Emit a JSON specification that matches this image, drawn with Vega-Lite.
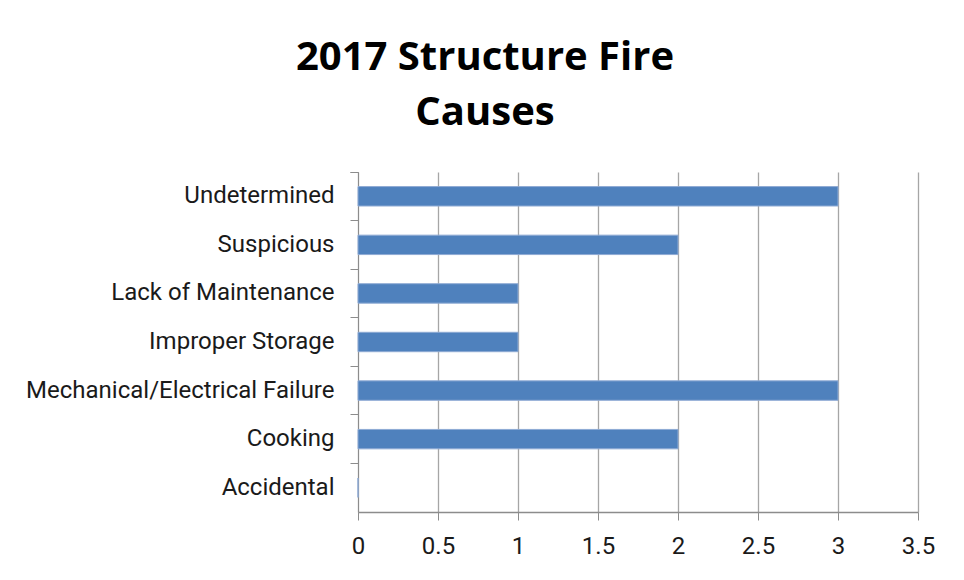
{
  "$schema": "https://vega.github.io/schema/vega-lite/v6.json",
  "autosize": "none",
  "width": 560,
  "height": 340,
  "padding": {"left": 358, "top": 172, "right": 46, "bottom": 68},
  "background": "white",
  "title": {
    "text": ["2017 Structure Fire", "Causes"],
    "font": "Open Sans",
    "fontSize": 40,
    "fontWeight": "bold",
    "color": "#000000",
    "lineHeight": 55,
    "anchor": "middle",
    "frame": "group",
    "dx": -153,
    "offset": 27
  },
  "data": {
    "values": [
      {"cause": "Undetermined", "count": 3},
      {"cause": "Suspicious", "count": 2},
      {"cause": "Lack of Maintenance", "count": 1},
      {"cause": "Improper Storage", "count": 1},
      {"cause": "Mechanical/Electrical Failure", "count": 3},
      {"cause": "Cooking", "count": 2},
      {"cause": "Accidental", "count": 0}
    ]
  },
  "mark": {"type": "bar", "color": "#4F81BD", "stroke": "#8EAAD4", "strokeWidth": 1, "height": {"band": 0.4}},
  "encoding": {
    "y": {
      "field": "cause",
      "type": "nominal",
      "sort": null,
      "scale": {"paddingInner": 0, "paddingOuter": 0},
      "axis": {
        "title": null,
        "bandPosition": 0,
        "tickExtra": true,
        "labelFont": "Roboto",
        "labelFontSize": 24,
        "labelColor": "#1a1a1a",
        "labelPadding": 16,
        "labelLimit": 400,
        "tickSize": 8,
        "tickColor": "#8c8c8c",
        "domainColor": "#8c8c8c",
        "grid": false
      }
    },
    "x": {
      "field": "count",
      "type": "quantitative",
      "scale": {"domain": [0, 3.5], "nice": false},
      "axis": {
        "title": null,
        "values": [0, 0.5, 1, 1.5, 2, 2.5, 3, 3.5],
        "format": "~g",
        "labelFont": "Roboto",
        "labelFontSize": 24,
        "labelFlush": false,
        "labelColor": "#1a1a1a",
        "labelPadding": 14,
        "tickSize": 8,
        "tickColor": "#8c8c8c",
        "domain": true,
        "domainColor": "#8c8c8c",
        "domainWidth": 1.3,
        "grid": true,
        "gridColor": "#a6a6a6",
        "gridWidth": 1.3
      }
    }
  },
  "config": {"view": {"stroke": null}}
}
